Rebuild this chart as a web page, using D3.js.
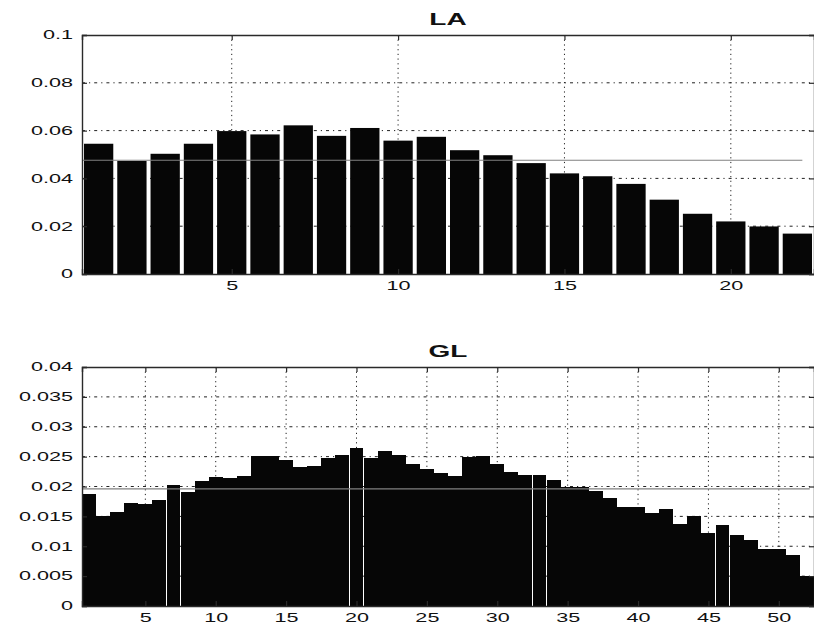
<!DOCTYPE html>
<html>
<head>
<meta charset="utf-8">
<script src="https://cdn.jsdelivr.net/npm/d3@7"></script>
<style>
  html, body { margin: 0; padding: 0; background: #fff; }
  svg { display: block; }
  text { font-family: "Liberation Sans", Arial, Helvetica, sans-serif; fill: #111; }
</style>
</head>
<body>
<svg id="chart" width="814" height="628"></svg>
<script>
// Relative frequencies per position, LA panel (22 bins)
const laValues = [0.0545, 0.0473, 0.0503, 0.0545, 0.0598, 0.0584, 0.0622, 0.0578, 0.0611, 0.0558, 0.0574,
                  0.0518, 0.0497, 0.0464, 0.0421, 0.0409, 0.0377, 0.0311, 0.0252, 0.0220, 0.0199, 0.0169];
// Relative frequencies per position, GL panel (52 bins)
const glValues = [0.0188, 0.0151, 0.0157, 0.0172, 0.0171, 0.0177, 0.0203, 0.0190, 0.0210, 0.0216, 0.0214,
                  0.0218, 0.0251, 0.0251, 0.0245, 0.0232, 0.0234, 0.0248, 0.0253, 0.0265, 0.0247, 0.0260,
                  0.0253, 0.0238, 0.0229, 0.0223, 0.0217, 0.0250, 0.0251, 0.0238, 0.0225, 0.0219, 0.0220,
                  0.0211, 0.0200, 0.0199, 0.0192, 0.0181, 0.0166, 0.0166, 0.0156, 0.0162, 0.0138, 0.0151,
                  0.0123, 0.0135, 0.0118, 0.0110, 0.0095, 0.0095, 0.0086, 0.0051];
// Uniform reference level for each panel and where its line stops on the x axis
const laReference = 0.0476;
const glReference = 0.0196;
const laReferenceEnd = 22.15;
const glReferenceEnd = 52.2;
// Tick values and labels
const laTicksX = [5, 10, 15, 20];
const glTicksX = [5, 10, 15, 20, 25, 30, 35, 40, 45, 50];
const laTicksY = [0, 0.02, 0.04, 0.06, 0.08, 0.1];
const laTickLabelsY = ["0", "0.02", "0.04", "0.06", "0.08", "0.1"];
const glTicksY = [0, 0.005, 0.01, 0.015, 0.02, 0.025, 0.03, 0.035, 0.04];
const glTickLabelsY = ["0", "0.005", "0.01", "0.015", "0.02", "0.025", "0.03", "0.035", "0.04"];

const svg = d3.select("#chart");
const STRETCH = 1.8;       // wide lettering for tick labels
const TITLE_STRETCH = 1.75;

function drawPanel(opt) {
  const { title, values, ref, refEnd, ticksX, ticksY, labelsY, yMax,
          left, right, top, bottom, barFrac, crisp } = opt;
  const n = values.length;
  const x = d3.scaleLinear().domain([0.5, n + 0.5]).range([left, right]);
  const y = d3.scaleLinear().domain([0, yMax]).range([bottom, top]);
  const g = svg.append("g");

  // grid
  g.append("g").selectAll("line").data(ticksX).join("line")
    .attr("x1", d => x(d)).attr("x2", d => x(d))
    .attr("y1", top).attr("y2", bottom)
    .attr("stroke", "#222").attr("stroke-width", 1)
    .attr("stroke-dasharray", "1.2,3.5");
  g.append("g").selectAll("line").data(ticksY.filter(v => v > 0 && v < yMax)).join("line")
    .attr("x1", left).attr("x2", right)
    .attr("y1", d => y(d)).attr("y2", d => y(d))
    .attr("stroke", "#222").attr("stroke-width", 1)
    .attr("stroke-dasharray", "3,4,1.2,4");

  // bars
  const bw = (x(2) - x(1)) * barFrac;
  g.append("g")
    .attr("shape-rendering", crisp ? "crispEdges" : null)
    .selectAll("rect").data(values).join("rect")
    .attr("x", (d, i) => x(i + 1) - bw / 2)
    .attr("width", bw)
    .attr("y", d => y(d))
    .attr("height", d => y(0) - y(d))
    .attr("fill", "#060606");

  // reference level
  g.append("line")
    .attr("x1", x(0.5)).attr("x2", x(refEnd))
    .attr("y1", y(ref)).attr("y2", y(ref))
    .attr("stroke", "#808080").attr("stroke-width", 1.2);

  // axes with inward ticks
  const ax = g.append("g").attr("transform", `translate(0,${bottom})`)
    .call(d3.axisBottom(x).tickValues(ticksX).tickSize(-5).tickPadding(12).tickFormat(d3.format("d")));
  const axTop = g.append("g").attr("transform", `translate(0,${top})`)
    .call(d3.axisTop(x).tickValues(ticksX).tickSize(-5).tickFormat(""));
  const ay = g.append("g").attr("transform", `translate(${left},0)`)
    .call(d3.axisLeft(y).tickValues(ticksY).tickSize(-5).tickPadding(9)
      .tickFormat((d, i) => labelsY[i]));
  const ayR = g.append("g").attr("transform", `translate(${right},0)`)
    .call(d3.axisRight(y).tickValues(ticksY).tickSize(-5).tickFormat(""));

  [ax, axTop, ay, ayR].forEach(a => {
    a.select(".domain").attr("stroke", "#2a2a2a").attr("stroke-width", 1.4);
    a.selectAll(".tick line").attr("stroke", "#2a2a2a").attr("stroke-width", 1.2);
  });
  ax.selectAll(".tick text").each(function () {
    const t = d3.select(this);
    t.attr("font-size", 12).attr("fill", "#111")
     .attr("transform", `scale(${STRETCH},1)`).attr("dy", "0.35em").attr("y", 12);
  });
  ay.selectAll(".tick text").each(function () {
    const t = d3.select(this);
    t.attr("font-size", 12).attr("fill", "#111")
     .attr("x", -9 / STRETCH).attr("transform", `scale(${STRETCH},1)`);
  });
  ax.attr("font-family", null); ay.attr("font-family", null);

  // title
  g.append("text")
    .attr("transform", `translate(${(left + right) / 2},${top - 16}) scale(${TITLE_STRETCH},1)`)
    .attr("text-anchor", "middle").attr("dy", "0.35em")
    .attr("font-size", 16).attr("font-weight", "bold").attr("fill", "#111")
    .text(title);
}

drawPanel({ title: "LA", values: laValues, ref: laReference, refEnd: laReferenceEnd,
  ticksX: laTicksX, ticksY: laTicksY, labelsY: laTickLabelsY, yMax: 0.1,
  left: 82, right: 814, top: 35, bottom: 274, barFrac: 0.88, crisp: false });

drawPanel({ title: "GL", values: glValues, ref: glReference, refEnd: glReferenceEnd,
  ticksX: glTicksX, ticksY: glTicksY, labelsY: glTickLabelsY, yMax: 0.04,
  left: 82, right: 814, top: 367, bottom: 606, barFrac: 0.985, crisp: true });
</script>
</body>
</html>
